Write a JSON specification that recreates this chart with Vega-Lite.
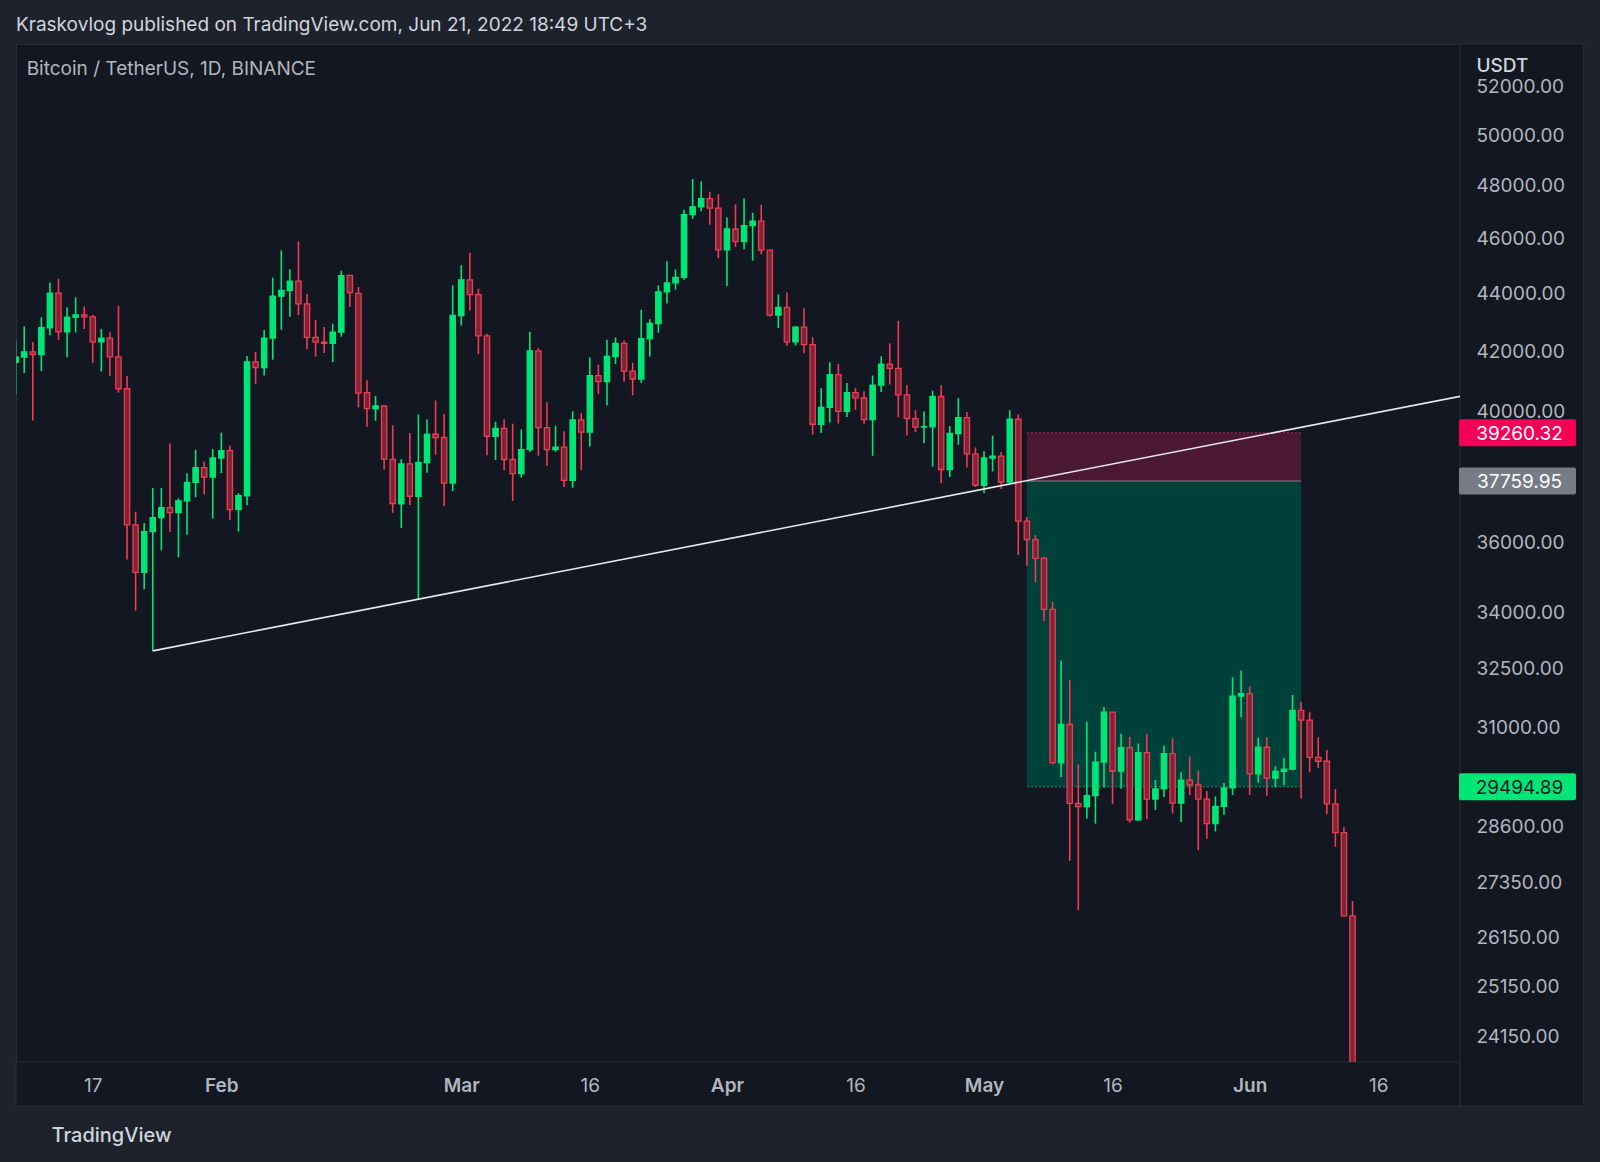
{
  "$schema": "https://vega.github.io/schema/vega-lite/v6.json",
  "width": 1444,
  "height": 1018,
  "autosize": {"type": "none"},
  "padding": {"left": 16, "top": 44, "right": 140, "bottom": 100},
  "background": "#1e222d",
  "title": {
    "text": "Kraskovlog published on TradingView.com, Jun 21, 2022 18:49 UTC+3",
    "subtitle": "\u200b\u00a0\u00a0Bitcoin / TetherUS, 1D, BINANCE",
    "anchor": "start",
    "frame": "group",
    "offset": -35,
    "subtitlePadding": 25,
    "font": "Inter",
    "fontSize": 19,
    "fontWeight": 400,
    "color": "#d1d4dc",
    "subtitleFont": "Inter",
    "subtitleFontSize": 19,
    "subtitleColor": "#b2b5be"
  },
  "datasets": {
    "ohlc": [
      {"d":"2022-01-08","o":41557.56,"h":42300,"l":40501,"c":41733.94},
      {"d":"2022-01-09","o":41733.94,"h":42786.7,"l":41200.02,"c":41911.6},
      {"d":"2022-01-10","o":41911.6,"h":42248.5,"l":39650,"c":41821.26},
      {"d":"2022-01-11","o":41821.35,"h":43100,"l":41268.93,"c":42735.63},
      {"d":"2022-01-12","o":42735.63,"h":44322,"l":42474.41,"c":43949.1},
      {"d":"2022-01-13","o":43949.1,"h":44459,"l":42311,"c":42591.57},
      {"d":"2022-01-14","o":42591.57,"h":43448.78,"l":41725.95,"c":43099.7},
      {"d":"2022-01-15","o":43099.7,"h":43799,"l":42578.04,"c":43177.39},
      {"d":"2022-01-16","o":43177.39,"h":43476.6,"l":42693.52,"c":43113.88},
      {"d":"2022-01-17","o":43113.87,"h":43179.39,"l":41540.42,"c":42250.55},
      {"d":"2022-01-18","o":42250.74,"h":42691,"l":41250,"c":42375.63},
      {"d":"2022-01-19","o":42375.63,"h":42576.38,"l":41100,"c":41744.27},
      {"d":"2022-01-20","o":41744.26,"h":43505,"l":40553.31,"c":40680.91},
      {"d":"2022-01-21","o":40680.92,"h":41100,"l":35440.45,"c":36445.31},
      {"d":"2022-01-22","o":36445.31,"h":36835.22,"l":34008,"c":35071.42},
      {"d":"2022-01-23","o":35071.42,"h":36499,"l":34601.01,"c":36244.55},
      {"d":"2022-01-24","o":36244.55,"h":37550,"l":32917.17,"c":36660.35},
      {"d":"2022-01-25","o":36660.35,"h":37545.14,"l":35701,"c":36958.32},
      {"d":"2022-01-26","o":36958.32,"h":38919.98,"l":36234.63,"c":36809.34},
      {"d":"2022-01-27","o":36807.24,"h":37234.47,"l":35507.01,"c":37160.1},
      {"d":"2022-01-28","o":37160.11,"h":38000,"l":36155.01,"c":37716.56},
      {"d":"2022-01-29","o":37716.57,"h":38720.74,"l":37268.44,"c":38166.84},
      {"d":"2022-01-30","o":38166.83,"h":38359.26,"l":37351.63,"c":37881.76},
      {"d":"2022-01-31","o":37881.75,"h":38744,"l":36632.61,"c":38466.9},
      {"d":"2022-02-01","o":38466.9,"h":39265.2,"l":38000,"c":38694.59},
      {"d":"2022-02-02","o":38694.59,"h":38855.92,"l":36586.95,"c":36896.36},
      {"d":"2022-02-03","o":36896.37,"h":37387,"l":36250,"c":37311.61},
      {"d":"2022-02-04","o":37311.98,"h":41772.33,"l":37026.73,"c":41574.25},
      {"d":"2022-02-05","o":41571.7,"h":41913.69,"l":40843.01,"c":41382.59},
      {"d":"2022-02-06","o":41382.6,"h":42656,"l":41116.56,"c":42380.87},
      {"d":"2022-02-07","o":42380.87,"h":44500.5,"l":41645.85,"c":43839.99},
      {"d":"2022-02-08","o":43839.99,"h":45492,"l":42666,"c":44042.99},
      {"d":"2022-02-09","o":44043,"h":44799,"l":43117.92,"c":44372.72},
      {"d":"2022-02-10","o":44372.71,"h":45821,"l":43174.01,"c":43565.11},
      {"d":"2022-02-11","o":43565.11,"h":43920,"l":42000.3,"c":42407.23},
      {"d":"2022-02-12","o":42407.23,"h":43000,"l":41748.68,"c":42244.47},
      {"d":"2022-02-13","o":42244.46,"h":42760,"l":41870,"c":42197.52},
      {"d":"2022-02-14","o":42197.51,"h":42876.15,"l":41570,"c":42586.92},
      {"d":"2022-02-15","o":42586.64,"h":44751.4,"l":42427.03,"c":44575.2},
      {"d":"2022-02-16","o":44578.95,"h":44578.95,"l":43456.69,"c":43961.85},
      {"d":"2022-02-17","o":43937.07,"h":44164.71,"l":40073.21,"c":40538.01},
      {"d":"2022-02-18","o":40552.13,"h":40959.88,"l":39450,"c":40030.8},
      {"d":"2022-02-19","o":40026.02,"h":40444.32,"l":39639.03,"c":40122.16},
      {"d":"2022-02-20","o":40118.1,"h":40119.89,"l":38112.81,"c":38431.37},
      {"d":"2022-02-21","o":38423.76,"h":39494.35,"l":36800,"c":37075.28},
      {"d":"2022-02-22","o":37068.77,"h":38429,"l":36350,"c":38286.01},
      {"d":"2022-02-23","o":38285.28,"h":39249.93,"l":37036.79,"c":37296.57},
      {"d":"2022-02-24","o":37296.58,"h":39843,"l":34322.28,"c":38332.61},
      {"d":"2022-02-25","o":38328.68,"h":39683.53,"l":38014.37,"c":39214.22},
      {"d":"2022-02-26","o":39213.34,"h":40300,"l":38573.18,"c":39105.15},
      {"d":"2022-02-27","o":39110.11,"h":39855.7,"l":37000,"c":37699.07},
      {"d":"2022-02-28","o":37699.08,"h":44225.84,"l":37450.17,"c":43160},
      {"d":"2022-03-01","o":43160,"h":44949,"l":42809.98,"c":44421.2},
      {"d":"2022-03-02","o":44421.2,"h":45400,"l":43334.09,"c":43892.98},
      {"d":"2022-03-03","o":43892.99,"h":44101.12,"l":41832.28,"c":42454},
      {"d":"2022-03-04","o":42454,"h":42527.3,"l":38550,"c":39148.66},
      {"d":"2022-03-05","o":39148.65,"h":39613.24,"l":38407.59,"c":39397.96},
      {"d":"2022-03-06","o":39397.97,"h":39693.87,"l":38088.57,"c":38420.81},
      {"d":"2022-03-07","o":38420.8,"h":39547.57,"l":37155,"c":37988},
      {"d":"2022-03-08","o":37988.01,"h":39362.08,"l":37867.65,"c":38730.63},
      {"d":"2022-03-09","o":38730.63,"h":42594.06,"l":38656.45,"c":41941.71},
      {"d":"2022-03-10","o":41941.7,"h":42039.63,"l":38539.73,"c":39422},
      {"d":"2022-03-11","o":39422.01,"h":40236.26,"l":38223.6,"c":38729.57},
      {"d":"2022-03-12","o":38729.57,"h":39486.71,"l":38660.52,"c":38807.36},
      {"d":"2022-03-13","o":38807.35,"h":39310,"l":37578.51,"c":37777.34},
      {"d":"2022-03-14","o":37777.35,"h":39947.12,"l":37555,"c":39671.37},
      {"d":"2022-03-15","o":39671.37,"h":39887.61,"l":38098.33,"c":39280.33},
      {"d":"2022-03-16","o":39280.33,"h":41718,"l":38828.48,"c":41114},
      {"d":"2022-03-17","o":41114.01,"h":41478.82,"l":40500,"c":40917.9},
      {"d":"2022-03-18","o":40917.89,"h":42325.02,"l":40135.04,"c":41757.51},
      {"d":"2022-03-19","o":41757.51,"h":42400,"l":41499.29,"c":42201.13},
      {"d":"2022-03-20","o":42201.13,"h":42296.26,"l":40911,"c":41262.11},
      {"d":"2022-03-21","o":41262.11,"h":41544.22,"l":40467.94,"c":41002.25},
      {"d":"2022-03-22","o":41002.26,"h":43361,"l":40875.51,"c":42364.13},
      {"d":"2022-03-23","o":42364.13,"h":43025.96,"l":41751.47,"c":42882.76},
      {"d":"2022-03-24","o":42882.76,"h":44220.89,"l":42560.46,"c":43991.46},
      {"d":"2022-03-25","o":43991.46,"h":45094.14,"l":43579,"c":44313.16},
      {"d":"2022-03-26","o":44313.16,"h":44792.99,"l":44071.97,"c":44511.27},
      {"d":"2022-03-27","o":44511.27,"h":46999,"l":44421.46,"c":46827.76},
      {"d":"2022-03-28","o":46827.76,"h":48189.84,"l":46663.56,"c":47122.21},
      {"d":"2022-03-29","o":47122.21,"h":48096.47,"l":46950.85,"c":47434.8},
      {"d":"2022-03-30","o":47434.79,"h":47700.22,"l":46445.42,"c":47067.99},
      {"d":"2022-03-31","o":47067.99,"h":47600,"l":45200,"c":45510.34},
      {"d":"2022-04-01","o":45510.35,"h":46720.09,"l":44200,"c":46283.49},
      {"d":"2022-04-02","o":46283.49,"h":47213,"l":45620,"c":45811},
      {"d":"2022-04-03","o":45810.99,"h":47444.11,"l":45530.92,"c":46407.35},
      {"d":"2022-04-04","o":46407.36,"h":46890.71,"l":45118,"c":46580.51},
      {"d":"2022-04-05","o":46580.5,"h":47200,"l":45353.81,"c":45497.55},
      {"d":"2022-04-06","o":45497.54,"h":45507.14,"l":43121,"c":43170.47},
      {"d":"2022-04-07","o":43170.47,"h":43900.99,"l":42727.35,"c":43444.19},
      {"d":"2022-04-08","o":43444.2,"h":43970.62,"l":42107.14,"c":42252.01},
      {"d":"2022-04-09","o":42252.02,"h":42800,"l":42125.48,"c":42753.97},
      {"d":"2022-04-10","o":42753.96,"h":43410.3,"l":41868,"c":42158.85},
      {"d":"2022-04-11","o":42158.85,"h":42414.71,"l":39200,"c":39530.45},
      {"d":"2022-04-12","o":39530.45,"h":40699,"l":39254.63,"c":40074.94},
      {"d":"2022-04-13","o":40074.95,"h":41561.31,"l":39588.54,"c":41147.79},
      {"d":"2022-04-14","o":41147.78,"h":41500,"l":39551.94,"c":39942.38},
      {"d":"2022-04-15","o":39942.37,"h":40870.36,"l":39766.4,"c":40551.9},
      {"d":"2022-04-16","o":40551.9,"h":40709.35,"l":39991.55,"c":40378.71},
      {"d":"2022-04-17","o":40378.7,"h":40595.67,"l":39546.17,"c":39678.12},
      {"d":"2022-04-18","o":39678.11,"h":41116.73,"l":38536.51,"c":40801.13},
      {"d":"2022-04-19","o":40801.13,"h":41760,"l":40571,"c":41493.18},
      {"d":"2022-04-20","o":41493.19,"h":42199,"l":40820,"c":41358.19},
      {"d":"2022-04-21","o":41358.19,"h":42976,"l":39751,"c":40480.01},
      {"d":"2022-04-22","o":40480.01,"h":40795.06,"l":39177,"c":39709.18},
      {"d":"2022-04-23","o":39709.19,"h":39980,"l":39285,"c":39441.6},
      {"d":"2022-04-24","o":39441.61,"h":39940,"l":38929.62,"c":39450.13},
      {"d":"2022-04-25","o":39450.12,"h":40616,"l":38200,"c":40426.08},
      {"d":"2022-04-26","o":40426.08,"h":40797.31,"l":37702.26,"c":38112.65},
      {"d":"2022-04-27","o":38112.64,"h":39474.72,"l":37881.31,"c":39235.72},
      {"d":"2022-04-28","o":39235.72,"h":40372.63,"l":38881.43,"c":39742.07},
      {"d":"2022-04-29","o":39742.06,"h":39925.25,"l":38175,"c":38596.11},
      {"d":"2022-04-30","o":38596.11,"h":38795.38,"l":37578.2,"c":37630.8},
      {"d":"2022-05-01","o":37630.8,"h":38675,"l":37386.38,"c":38468.35},
      {"d":"2022-05-02","o":38468.35,"h":39167.34,"l":38052,"c":38525.16},
      {"d":"2022-05-03","o":38525.16,"h":38651.51,"l":37517.8,"c":37728.95},
      {"d":"2022-05-04","o":37728.95,"h":39980,"l":37670,"c":39690},
      {"d":"2022-05-05","o":39690,"h":39845.51,"l":35571.9,"c":36552.97},
      {"d":"2022-05-06","o":36552.97,"h":36675.63,"l":35258,"c":36013.77},
      {"d":"2022-05-07","o":36013.77,"h":36146.3,"l":34785,"c":35472.39},
      {"d":"2022-05-08","o":35472.4,"h":35514.22,"l":33713.95,"c":34038.4},
      {"d":"2022-05-09","o":34038.39,"h":34243.15,"l":30033.33,"c":30076.31},
      {"d":"2022-05-10","o":30074.23,"h":32658.99,"l":29730.4,"c":31017.1},
      {"d":"2022-05-11","o":31017.11,"h":32162.59,"l":27785,"c":29103.94},
      {"d":"2022-05-12","o":29103.94,"h":30032.44,"l":26700,"c":29029.75},
      {"d":"2022-05-13","o":29029.74,"h":31083.37,"l":28751.67,"c":29287.05},
      {"d":"2022-05-14","o":29287.05,"h":30343.27,"l":28630,"c":30086.74},
      {"d":"2022-05-15","o":30086.74,"h":31460,"l":29480,"c":31328.89},
      {"d":"2022-05-16","o":31328.89,"h":31328.9,"l":29087.04,"c":29874.01},
      {"d":"2022-05-17","o":29874.01,"h":30788.37,"l":29450.38,"c":30444.93},
      {"d":"2022-05-18","o":30444.93,"h":30709.99,"l":28654.47,"c":28715.32},
      {"d":"2022-05-19","o":28715.33,"h":30545.18,"l":28691.38,"c":30319.23},
      {"d":"2022-05-20","o":30319.22,"h":30777.33,"l":28730,"c":29201.01},
      {"d":"2022-05-21","o":29201.01,"h":29656.18,"l":28947.28,"c":29445.06},
      {"d":"2022-05-22","o":29445.07,"h":30487.99,"l":29255.11,"c":30293.94},
      {"d":"2022-05-23","o":30293.93,"h":30670.51,"l":28866.35,"c":29109.15},
      {"d":"2022-05-24","o":29109.14,"h":29845.86,"l":28669,"c":29654.58},
      {"d":"2022-05-25","o":29654.58,"h":30223.74,"l":29294.21,"c":29542.15},
      {"d":"2022-05-26","o":29542.14,"h":29886.64,"l":28019.56,"c":29201.35},
      {"d":"2022-05-27","o":29201.35,"h":29397.66,"l":28282.9,"c":28629.8},
      {"d":"2022-05-28","o":28629.81,"h":29266,"l":28450,"c":29031.33},
      {"d":"2022-05-29","o":29031.33,"h":29587.78,"l":28839.21,"c":29468.1},
      {"d":"2022-05-30","o":29468.1,"h":32222,"l":29299.62,"c":31734.22},
      {"d":"2022-05-31","o":31734.23,"h":32399,"l":31200.01,"c":31801.04},
      {"d":"2022-06-01","o":31801.05,"h":31982.97,"l":29301,"c":29805.83},
      {"d":"2022-06-02","o":29805.84,"h":30689,"l":29594.55,"c":30452.62},
      {"d":"2022-06-03","o":30452.63,"h":30699,"l":29282.36,"c":29700.21},
      {"d":"2022-06-04","o":29700.21,"h":29988.88,"l":29485,"c":29864.04},
      {"d":"2022-06-05","o":29864.03,"h":30189,"l":29531.42,"c":29919.21},
      {"d":"2022-06-06","o":29919.2,"h":31765.64,"l":29890.23,"c":31373.1},
      {"d":"2022-06-07","o":31373.1,"h":31589.6,"l":29218.96,"c":31125.33},
      {"d":"2022-06-08","o":31125.32,"h":31327.22,"l":29843.88,"c":30204.77},
      {"d":"2022-06-09","o":30204.77,"h":30700,"l":29944.1,"c":30109.93},
      {"d":"2022-06-10","o":30109.93,"h":30382.8,"l":28850,"c":29091.88},
      {"d":"2022-06-11","o":29091.87,"h":29440.41,"l":28099.99,"c":28424.7},
      {"d":"2022-06-12","o":28424.71,"h":28544.96,"l":26560,"c":26574.53},
      {"d":"2022-06-13","o":26574.53,"h":26895.84,"l":21925.77,"c":22487.41}
    ]
  },
  "layer": [
    {
      "data": {"values": [
        {"x1": "2022-06-25T13:00:00Z", "x2": "2022-07-10T00:00:00Z", "y1": 22791, "y2": 53744},
        {"x1": "2022-01-08T01:00:00Z", "x2": "2022-06-25T13:00:00Z", "y1": 22791, "y2": 23616}
      ]},
      "mark": {"type": "rect", "clip": false, "fill": "#131722", "stroke": "#2a2e39", "strokeWidth": 1},
      "encoding": {
        "x": {
          "field": "x1", "type": "temporal", "title": "TradingView",
          "scale": {"type": "utc", "padding": 0, "domain": [{"year": 2022, "month": 1, "date": 8, "hours": 1, "utc": true}, {"year": 2022, "month": 6, "date": 25, "hours": 13, "utc": true}]},
          "axis": {
            "orient": "bottom",
            "zindex": 1,
            "values": [
              {"year": 2022, "month": 1, "date": 17, "utc": true},
              {"year": 2022, "month": 2, "date": 1, "utc": true},
              {"year": 2022, "month": 3, "date": 1, "utc": true},
              {"year": 2022, "month": 3, "date": 16, "utc": true},
              {"year": 2022, "month": 4, "date": 1, "utc": true},
              {"year": 2022, "month": 4, "date": 16, "utc": true},
              {"year": 2022, "month": 5, "date": 1, "utc": true},
              {"year": 2022, "month": 5, "date": 16, "utc": true},
              {"year": 2022, "month": 6, "date": 1, "utc": true},
              {"year": 2022, "month": 6, "date": 16, "utc": true}
            ],
            "labelExpr": "utcdate(datum.value) == 1 ? utcFormat(datum.value, '%b') : utcFormat(datum.value, '%-d')",
            "labelFontWeight": {"condition": {"test": "utcdate(datum.value) == 1", "value": 600}, "value": 400}
          }
        },
        "x2": {"field": "x2"},
        "y": {
          "field": "y1", "type": "quantitative", "title": "USDT",
          "scale": {"type": "log", "padding": 0, "domain": [23616, 53744]},
          "axis": {
            "orient": "right",
            "zindex": 1,
            "format": ".2f",
            "labelOffset": 2,
            "values": [24150, 25150, 26150, 27350, 28600, 31000, 32500, 34000, 36000, 40000, 42000, 44000, 46000, 48000, 50000, 52000]
          }
        },
        "y2": {"field": "y2"}
      }
    },
    {
      "data": {"values": [
        {"s": "2022-05-06T00:00:00Z", "e": "2022-06-07T00:00:00Z", "lo": 37759.95, "hi": 39260.32, "k": "stop"},
        {"s": "2022-05-06T00:00:00Z", "e": "2022-06-07T00:00:00Z", "lo": 29494.89, "hi": 37759.95, "k": "target"}
      ]},
      "mark": {"type": "rect", "clip": true},
      "encoding": {
        "x": {"field": "s", "type": "temporal", "title": "TradingView", "scale": {"type": "utc", "padding": 0, "domain": [{"year": 2022, "month": 1, "date": 8, "hours": 1, "utc": true}, {"year": 2022, "month": 6, "date": 25, "hours": 13, "utc": true}]}},
        "x2": {"field": "e"},
        "y": {"field": "lo", "type": "quantitative", "title": "USDT", "scale": {"type": "log", "padding": 0, "domain": [23616, 53744]}},
        "y2": {"field": "hi"},
        "fill": {"condition": {"test": "datum.k == 'stop'", "value": "#4a1832"}, "value": "#00403a"}
      }
    },
    {
      "data": {"values": [
        {"s": "2022-05-06T00:00:00Z", "e": "2022-06-07T00:00:00Z", "p": 39260.32, "k": "stop"},
        {"s": "2022-05-06T00:00:00Z", "e": "2022-06-07T00:00:00Z", "p": 37759.95, "k": "entry"},
        {"s": "2022-05-06T00:00:00Z", "e": "2022-06-07T00:00:00Z", "p": 29494.89, "k": "target"}
      ]},
      "mark": {"type": "rule", "clip": true, "strokeWidth": 1},
      "encoding": {
        "x": {"field": "s", "type": "temporal", "title": "TradingView", "scale": {"type": "utc", "padding": 0, "domain": [{"year": 2022, "month": 1, "date": 8, "hours": 1, "utc": true}, {"year": 2022, "month": 6, "date": 25, "hours": 13, "utc": true}]}},
        "x2": {"field": "e"},
        "y": {"field": "p", "type": "quantitative", "title": "USDT", "scale": {"type": "log", "padding": 0, "domain": [23616, 53744]}},
        "stroke": {"condition": [{"test": "datum.k == 'stop'", "value": "#a3275a"}, {"test": "datum.k == 'entry'", "value": "#8a8d96"}], "value": "#0a9a55"},
        "strokeDash": {"condition": {"test": "datum.k == 'entry'", "value": [1, 0]}, "value": [2, 2]}
      }
    },
    {
      "data": {"name": "ohlc"},
      "mark": {"type": "rule", "clip": true, "strokeWidth": 1.6},
      "encoding": {
        "x": {"field": "d", "type": "temporal", "title": "TradingView", "scale": {"type": "utc", "padding": 0, "domain": [{"year": 2022, "month": 1, "date": 8, "hours": 1, "utc": true}, {"year": 2022, "month": 6, "date": 25, "hours": 13, "utc": true}]}},
        "y": {"field": "l", "type": "quantitative", "title": "USDT", "scale": {"type": "log", "padding": 0, "domain": [23616, 53744]}},
        "y2": {"field": "h"},
        "stroke": {"condition": {"test": "datum.c >= datum.o", "value": "#00e676"}, "value": "#f23a52"}
      }
    },
    {
      "data": {"name": "ohlc"},
      "mark": {"type": "bar", "clip": true, "width": 5.3, "strokeWidth": 1.3},
      "encoding": {
        "x": {"field": "d", "type": "temporal", "title": "TradingView", "scale": {"type": "utc", "padding": 0, "domain": [{"year": 2022, "month": 1, "date": 8, "hours": 1, "utc": true}, {"year": 2022, "month": 6, "date": 25, "hours": 13, "utc": true}]}},
        "y": {"field": "o", "type": "quantitative", "title": "USDT", "scale": {"type": "log", "padding": 0, "domain": [23616, 53744]}},
        "y2": {"field": "c"},
        "fill": {"condition": {"test": "datum.c >= datum.o", "value": "#00e676"}, "value": "#7a2636"},
        "stroke": {"condition": {"test": "datum.c >= datum.o", "value": "#00e676"}, "value": "#f23a52"}
      }
    },
    {
      "data": {"values": [
        {"t": "2022-01-24T00:00:00Z", "p": 32917.17},
        {"t": "2022-06-30T00:00:00Z", "p": 40676}
      ]},
      "mark": {"type": "line", "clip": true, "stroke": "#e8e8ec", "strokeWidth": 1.6},
      "encoding": {
        "x": {"field": "t", "type": "temporal", "title": "TradingView", "scale": {"type": "utc", "padding": 0, "domain": [{"year": 2022, "month": 1, "date": 8, "hours": 1, "utc": true}, {"year": 2022, "month": 6, "date": 25, "hours": 13, "utc": true}]}},
        "y": {"field": "p", "type": "quantitative", "title": "USDT", "scale": {"type": "log", "padding": 0, "domain": [23616, 53744]}}
      }
    },
    {
      "data": {"values": [
        {"t": "2022-07-02T06:00:00Z", "p": 39260.32, "lab": "39260.32", "k": "stop"},
        {"t": "2022-07-02T06:00:00Z", "p": 37759.95, "lab": "37759.95", "k": "entry"},
        {"t": "2022-07-02T06:00:00Z", "p": 29494.89, "lab": "29494.89", "k": "target"}
      ]},
      "layer": [
        {
          "mark": {"type": "tick", "orient": "horizontal", "clip": false, "size": 117, "thickness": 27, "cornerRadius": 2, "opacity": 1},
          "encoding": {
            "x": {"field": "t", "type": "temporal", "title": "TradingView", "scale": {"type": "utc", "padding": 0, "domain": [{"year": 2022, "month": 1, "date": 8, "hours": 1, "utc": true}, {"year": 2022, "month": 6, "date": 25, "hours": 13, "utc": true}]}},
            "y": {"field": "p", "type": "quantitative", "title": "USDT", "scale": {"type": "log", "padding": 0, "domain": [23616, 53744]}},
            "color": {"condition": [{"test": "datum.k == 'stop'", "value": "#f50057"}, {"test": "datum.k == 'entry'", "value": "#787b86"}], "value": "#00e676"}
          }
        },
        {
          "mark": {"type": "text", "clip": false, "align": "center", "baseline": "middle", "font": "Inter", "fontSize": 19, "dx": 2, "dy": 1},
          "encoding": {
            "x": {"field": "t", "type": "temporal", "title": "TradingView", "scale": {"type": "utc", "padding": 0, "domain": [{"year": 2022, "month": 1, "date": 8, "hours": 1, "utc": true}, {"year": 2022, "month": 6, "date": 25, "hours": 13, "utc": true}]}},
            "y": {"field": "p", "type": "quantitative", "title": "USDT", "scale": {"type": "log", "padding": 0, "domain": [23616, 53744]}},
            "text": {"field": "lab"},
            "color": {"condition": {"test": "datum.k == 'target'", "value": "#131722"}, "value": "#ffffff"}
          }
        }
      ]
    }
  ],
  "config": {
    "view": {"fill": "#131722", "stroke": "#2a2e39", "strokeWidth": 1},
    "font": "Inter",
    "axis": {
      "grid": false,
      "ticks": false,
      "tickSize": 0,
      "domain": false,
      "labelFont": "Inter",
      "labelFontSize": 19,
      "labelColor": "#b2b5be",
      "labelOverlap": false,
      "labelFlush": false,
      "titleFont": "Inter"
    },
    "axisY": {
      "labelAlign": "left",
      "labelBaseline": "middle",
      "labelPadding": 16,
      "titleAngle": 0,
      "titleAlign": "left",
      "titleBaseline": "middle",
      "titleX": 16,
      "titleY": 21,
      "titleFontSize": 19,
      "titleFontWeight": 500,
      "titleColor": "#d1d4dc"
    },
    "axisX": {
      "labelBaseline": "middle",
      "labelPadding": 23,
      "titleAlign": "left",
      "titleBaseline": "middle",
      "titleX": 35,
      "titleY": 73,
      "titleFontSize": 20,
      "titleFontWeight": 500,
      "titleColor": "#d1d4dc"
    }
  }
}
